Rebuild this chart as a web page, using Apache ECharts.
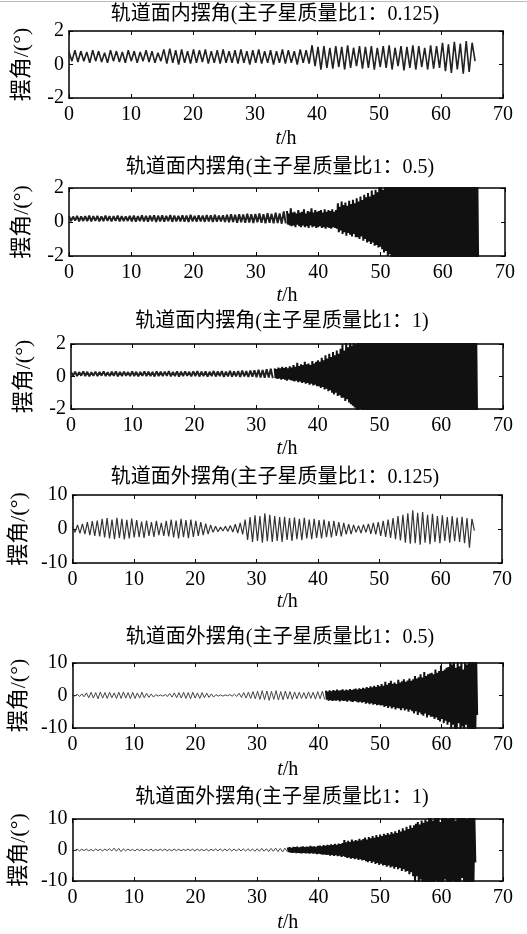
<!DOCTYPE html>
<html>
<head>
<meta charset="utf-8">
<title>摆角</title>
<script src="https://cdn.jsdelivr.net/npm/echarts@6/dist/echarts.min.js"></script>
<style>
html,body{margin:0;padding:0;background:#fff;}
#chart{width:527px;height:934px;}
</style>
</head>
<body>
<div id="chart"></div>
<script>
// 每个数组按 高/低 交替记录一次摆动的峰值和谷值
var titles = [
  '轨道面内摆角(主子星质量比1：0.125)',
  '轨道面内摆角(主子星质量比1：0.5)',
  '轨道面内摆角(主子星质量比1：1)',
  '轨道面外摆角(主子星质量比1：0.125)',
  '轨道面外摆角(主子星质量比1：0.5)',
  '轨道面外摆角(主子星质量比1：1)'
];
var xTicks = [0, 10, 20, 30, 40, 50, 60, 70];
var yRangeIn = [-2, 2, 2];
var yRangeOut = [-10, 10, 10];

// 面内 1:0.125, t 0 ~ 65.5
var p1 = [
  0.75,0.2, 0.85,0.15, 0.8,0.2, 0.75,0.1, 0.85,0.2, 0.8,0.15, 0.7,0.1, 0.85,0.2,
  0.8,0.15, 0.75,0.1, 0.85,0.2, 0.8,0.1, 0.75,0.2, 0.85,0.15, 0.8,0.1, 0.7,0.2,
  0.9,0.05, 0.95,0.1, 0.85,0.0, 0.9,0.1, 0.8,0.05, 0.9,0.1, 0.85,0.15, 0.9,0.05,
  0.8,0.1, 0.85,0.05, 0.9,0.1,
  0.8,0.1, 0.85,0.05, 0.9,0.1, 0.8,0.0, 0.85,0.1, 0.9,0.05, 0.8,0.1, 0.85,0.0,
  0.8,0.1, 0.9,0.05, 0.85,0.1, 0.8,0.0, 0.9,0.1, 0.85,0.05,
  1.15,-0.1, 1.05,-0.3, 1.1,-0.2, 1.0,-0.25, 1.1,-0.15, 1.05,-0.3, 1.15,-0.2, 1.0,-0.1,
  1.1,-0.25, 1.05,-0.2, 1.1,-0.3, 1.0,-0.15,
  1.1,-0.2, 1.15,-0.3, 1.0,-0.1, 1.1,-0.35, 1.05,-0.2, 1.15,-0.3, 1.1,-0.15, 1.0,-0.3,
  1.15,-0.25, 1.1,-0.2,
  1.3,-0.4, 1.2,-0.5, 1.35,-0.3, 1.25,-0.55, 1.4,-0.45, 1.3,0.2
];

// 面内 1:0.5, 前段 t 0 ~ 34.8
var p2a = [
  0.35,0.05, 0.32,0.08, 0.36,0.04, 0.33,0.06, 0.35,0.05, 0.38,0.03, 0.34,0.07, 0.36,0.04,
  0.33,0.05, 0.37,0.06, 0.35,0.03, 0.34,0.07, 0.38,0.04, 0.35,0.05, 0.33,0.06, 0.36,0.04,
  0.38,0.02, 0.35,0.05, 0.4,0.03, 0.36,0.02, 0.38,0.05, 0.4,0.0, 0.37,0.04, 0.39,0.02,
  0.36,0.05, 0.41,0.01, 0.38,0.03, 0.36,0.04, 0.4,0.02, 0.38,0.0, 0.42,0.03, 0.37,0.02,
  0.4,0.04, 0.38,0.01, 0.41,0.03, 0.39,0.0, 0.42,0.02, 0.38,0.03, 0.4,0.0,
  0.42,-0.02, 0.45,0.0, 0.43,-0.04, 0.46,-0.02, 0.44,-0.05, 0.48,-0.03, 0.45,-0.06, 0.47,-0.02,
  0.5,-0.05, 0.46,-0.08, 0.52,-0.04, 0.48,-0.07, 0.55,-0.06, 0.5,-0.1, 0.62,-0.08
];
// 后段 t 35 ~ 65.7
var p2b = [
  0.65,-0.15, 0.5,-0.2, 0.8,-0.25, 0.55,-0.2, 0.6,-0.3, 0.5,-0.15, 0.7,-0.25, 0.55,-0.3, 0.6,-0.2,
  0.75,-0.3, 0.5,-0.25, 0.65,-0.35, 0.6,-0.2, 0.8,-0.3, 0.55,-0.25, 0.7,-0.35, 0.6,-0.3, 0.65,-0.25,
  0.7,-0.35, 0.55,-0.3, 0.75,-0.4, 0.6,-0.3, 0.7,-0.35, 0.65,-0.4, 0.75,-0.3, 0.6,-0.35, 0.7,-0.4,
  1.1,-0.6, 0.9,-0.5, 1.2,-0.7, 1.0,-0.6, 1.15,-0.8, 0.95,-0.65, 1.25,-0.75, 1.05,-0.85, 1.3,-0.7, 1.1,-0.9,
  1.4,-0.9, 1.2,-1.0, 1.5,-0.85, 1.3,-1.1, 1.6,-1.0, 1.45,-1.2, 1.7,-1.15, 1.5,-1.3, 1.85,-1.2,
  1.6,-1.4, 1.9,-1.35, 1.75,-1.5, 2.1,-1.45,
  2.3,-1.6, 1.9,-1.8, 2.5,-1.7, 2.2,-2.0, 2.6,-1.9, 2.4,-2.2, 2.7,-2.3,
  2.8,-2.6, 2.6,-2.4, 3,-2.8, 2.7,-2.5, 2.9,-2.9, 2.6,-2.7, 3,-2.6, 2.8,-3, 2.7,-2.8, 3,-2.7,
  2.9,-2.9, 2.6,-2.8, 3,-3, 2.8,-2.6, 2.7,-2.9, 3,-2.8, 2.9,-2.7, 2.6,-3, 3,-2.9, 2.8,-2.8,
  2.7,-3, 3,-2.7, 2.9,-2.9, 2.8,-2.6, 3,-3, 2.7,-2.8, 2.9,-2.9, 3,-2.7, 2.8,-3, 2.6,-2.8,
  3,-2.9, 2.9,-2.7, 2.7,-3, 3,-2.8, 2.8,-2.9, 2.9,-3, 3,-2.7, 2.7,-2.9, 2.8,-3, 3,-2.8,
  2.9,-2.9, 3,-2.7, 2.8,-3, 2.9,-2.8, 3,-2.9
];

// 面内 1:1, 前段 t 0 ~ 32.7
var p3a = [
  0.28,0.04, 0.3,0.02, 0.27,0.05, 0.31,0.03, 0.29,0.01, 0.26,0.04, 0.3,0.02, 0.28,0.05, 0.32,0.03, 0.27,0.02,
  0.29,0.04, 0.31,0.01, 0.28,0.03, 0.3,0.05, 0.27,0.02, 0.32,0.03, 0.29,0.01, 0.28,0.04, 0.31,0.02, 0.3,0.03,
  0.28,0.0, 0.32,0.03, 0.29,0.02, 0.3,0.04, 0.33,0.01, 0.28,0.03, 0.31,0.0, 0.3,0.02, 0.32,0.04, 0.29,0.01,
  0.31,0.03, 0.33,0.0, 0.3,0.02, 0.32,-0.01, 0.29,0.03, 0.34,0.0, 0.31,0.02, 0.33,-0.02, 0.3,0.01, 0.35,-0.01,
  0.32,0.0, 0.34,-0.02, 0.36,0.0, 0.33,-0.03, 0.37,-0.01, 0.38,-0.04, 0.42,-0.06, 0.4,-0.08, 0.45,-0.07, 0.48,-0.1
];
// 后段 t 33 ~ 65.8
var p3b = [
  0.5,-0.1, 0.45,-0.15, 0.55,-0.12, 0.5,-0.2, 0.6,-0.15, 0.52,-0.2, 0.58,-0.25, 0.5,-0.18, 0.62,-0.22, 0.55,-0.25,
  0.7,-0.3, 0.6,-0.25, 0.85,-0.35, 0.65,-0.3, 0.75,-0.4, 0.7,-0.35, 0.9,-0.45, 0.75,-0.4, 0.8,-0.5, 0.7,-0.45,
  0.95,-0.55, 0.8,-0.5, 0.9,-0.6,
  1.0,-0.6, 0.9,-0.7, 1.15,-0.65, 1.0,-0.8, 1.3,-0.75, 1.1,-0.9, 1.4,-0.85, 1.2,-1.0, 1.5,-1.1, 1.3,-1.0,
  1.6,-1.2, 1.4,-1.15, 1.7,-1.3,
  2.0,-1.3, 1.6,-1.5, 2.2,-1.4, 1.8,-1.6, 2.1,-1.7, 1.9,-1.8, 2.4,-1.9, 2.0,-2.1, 2.5,-2.3, 2.2,-2.0,
  2.8,-2.6, 2.5,-2.9, 3,-2.7, 2.7,-3, 2.9,-2.5, 2.6,-2.8, 3,-2.9, 2.8,-2.6, 2.5,-3, 2.9,-2.7,
  3,-2.8, 2.7,-2.6, 2.8,-3, 2.6,-2.9, 3,-2.7, 2.9,-2.8, 2.7,-3, 3,-2.6, 2.8,-2.9, 2.6,-2.7,
  2.9,-3, 3,-2.8, 2.7,-2.7, 2.8,-2.9, 3,-3, 2.6,-2.8, 2.9,-2.6, 2.8,-3, 3,-2.9, 2.7,-2.7,
  2.9,-2.8, 2.6,-3, 3,-2.7, 2.8,-2.9, 2.7,-2.8, 3,-3, 2.9,-2.6, 2.8,-2.8, 2.6,-2.9, 3,-2.7,
  2.7,-3, 2.9,-2.8, 3,-2.9, 2.8,-2.7, 2.6,-3, 2.9,-2.8, 3,-2.6, 2.7,-2.9, 2.8,-3, 3,-2.8,
  2.9,-2.7, 2.6,-2.9, 3,-3, 2.8,-2.8, 2.7,-2.6, 3,-2.9, 2.9,-3, 2.8,-2.7, 3,-2.8, 2.7,-3,
  2.9,-2.9, 3,-2.7
];

// 面外 1:0.125, t 0 ~ 65.5
var p4 = [
  0.8,-1.0, 1.2,-1.3, 1.5,-1.5,
  2.0,-1.8, 2.3,-2.0, 2.5,-2.2,
  3.0,-2.5, 3.2,-2.8, 2.8,-3.0, 3.3,-2.6, 3.0,-3.1, 2.7,-2.8, 3.1,-2.5,
  2.6,-2.4, 2.2,-2.6, 2.5,-2.0, 2.0,-2.3, 2.4,-1.8, 1.8,-2.0,
  2.4,-2.2, 2.8,-2.5, 2.5,-2.8, 3.0,-2.4, 2.6,-2.7, 2.8,-2.3,
  2.4,-2.0, 2.0,-1.8, 1.6,-1.5, 1.2,-1.0, 0.8,-0.8, 0.6,-0.6, 0.8,-0.7,
  1.0,-0.9, 1.4,-1.2, 1.8,-1.6,
  2.8,-3.2, 3.5,-3.8, 4.0,-3.5, 3.8,-4.0, 4.6,-3.6, 4.2,-3.8,
  3.8,-3.5, 3.5,-3.8, 3.6,-3.2, 3.2,-3.5, 3.4,-3.0, 3.0,-3.3, 3.3,-2.8, 2.8,-3.0, 3.0,-2.6,
  2.6,-2.8, 2.8,-2.4, 2.3,-2.5, 2.4,-2.0, 2.0,-2.2, 1.8,-1.6, 1.4,-1.5, 1.2,-1.0, 1.0,-1.2, 1.3,-1.0,
  1.5,-1.4, 1.8,-1.6,
  2.0,-2.0, 2.4,-2.3, 2.8,-2.6, 3.2,-3.0,
  3.8,-3.4, 4.2,-4.0, 4.6,-4.3, 5.5,-4.2, 4.8,-4.6, 5.0,-4.0,
  4.2,-4.5, 4.5,-3.8, 3.8,-4.2, 4.0,-3.5, 3.5,-4.0, 3.8,-3.6, 3.4,-3.8, 3.6,-4.2, 3.2,-5.5, 3.0,-0.5
];

// 面外 1:0.5, 前段 t 0 ~ 41
var p5a = [
  0.3,-0.2, 0.4,-0.3, 0.5,-0.4,
  0.8,-0.7, 1.0,-0.8, 0.9,-1.0, 1.1,-0.8, 0.9,-0.9, 1.0,-0.7, 0.8,-0.9,
  1.0,-0.9, 1.1,-0.8, 0.9,-1.0, 1.0,-0.9, 0.8,-0.8, 1.0,-0.7, 0.7,-0.6, 0.5,-0.5,
  0.3,-0.2, 0.2,-0.2, 0.3,-0.3,
  0.6,-0.5, 0.8,-0.7, 0.9,-0.8, 1.0,-0.9, 0.9,-1.0, 1.0,-0.8, 0.8,-0.9, 0.9,-0.7, 0.7,-0.6, 0.5,-0.5,
  0.3,-0.2, 0.2,-0.2, 0.2,-0.1, 0.3,-0.2, 0.4,-0.3,
  0.7,-0.6, 0.9,-0.8, 1.0,-0.9, 1.2,-1.0,
  1.3,-1.2, 1.5,-1.3, 1.4,-1.5, 1.3,-1.2, 1.5,-1.4, 1.2,-1.3, 1.4,-1.1, 1.2,-1.2, 1.1,-1.0,
  1.0,-0.9, 0.9,-1.0, 1.1,-0.9, 1.0,-1.1, 1.2,-1.0, 1.3,-1.2
];
// 后段 t 41 ~ 65.8
var p5b = [
  1.5,-1.3, 1.2,-1.6, 1.6,-1.4, 1.3,-1.7, 1.7,-1.5, 1.4,-1.6, 1.8,-1.4, 1.5,-1.8, 1.6,-1.5, 1.9,-1.7,
  1.5,-1.6, 1.8,-1.9, 1.6,-1.5, 2.0,-1.8, 1.7,-2.0, 1.9,-1.7, 2.1,-1.9, 1.8,-2.1, 2.2,-1.9, 2.0,-2.2,
  2.4,-2.0, 2.1,-2.5, 2.6,-2.2, 2.3,-2.7, 2.8,-2.4, 2.5,-2.8, 3.0,-2.6, 2.6,-3.0, 3.2,-2.8, 2.8,-3.1,
  3.5,-3.0, 3.0,-3.5, 4.2,-3.2, 3.3,-3.8, 3.8,-3.4, 4.5,-4.0, 3.6,-3.6, 4.0,-4.3, 3.5,-3.8, 4.8,-4.0,
  4.0,-4.5, 4.4,-3.9, 5.0,-4.6, 4.2,-4.2, 4.6,-5.0, 5.2,-4.4, 4.5,-4.8,
  5.0,-5.5, 6.0,-4.8, 5.2,-6.0, 5.6,-5.2, 6.5,-5.8, 5.5,-6.2, 7.2,-5.5, 6.0,-6.8, 6.5,-6.0, 6.8,-6.5,
  7.0,-6.5, 6.5,-7.2, 8.0,-6.8, 7.0,-7.5, 7.5,-8.0, 9.2,-7.2, 7.5,-8.5, 8.0,-7.8, 8.5,-9.0, 8.8,-8.2,
  11,-10.5, 9.5,-9.0, 11,-11, 8.5,-10.5, 10.5,-8.5, 9.0,-11, 11,-9.5, 8.0,-10.5, 10.5,-9.0, 9.5,-11,
  11,-11, 10.5,-11, 11,-10.5, 11,-11, 10.5,-6.0
];

// 面外 1:1, 前段 t 0 ~ 34.9
var p6a = [
  0.2,-0.2, 0.3,-0.3, 0.25,-0.2, 0.3,-0.25, 0.2,-0.3, 0.3,-0.2, 0.25,-0.3, 0.3,-0.2, 0.4,-0.3,
  0.6,-0.4, 0.5,-0.5, 0.4,-0.3,
  0.3,-0.2, 0.2,-0.3, 0.3,-0.2, 0.25,-0.25, 0.2,-0.2, 0.3,-0.3, 0.2,-0.2, 0.25,-0.2, 0.3,-0.25, 0.2,-0.3,
  0.3,-0.2, 0.25,-0.25, 0.2,-0.2, 0.3,-0.2, 0.25,-0.3, 0.3,-0.2, 0.2,-0.25, 0.3,-0.3, 0.25,-0.2, 0.3,-0.25,
  0.35,-0.3, 0.3,-0.25, 0.35,-0.3, 0.3,-0.35, 0.4,-0.3, 0.35,-0.35, 0.4,-0.3, 0.35,-0.4,
  0.4,-0.4, 0.5,-0.4, 0.4,-0.5, 0.5,-0.4, 0.6,-0.5, 0.5,-0.6, 0.6,-0.5
];
// 后段 t 35 ~ 65.5
var p6b = [
  0.8,-0.7, 0.9,-0.8, 0.7,-0.9, 1.0,-0.8, 0.9,-1.0, 1.1,-0.9, 0.8,-1.0, 1.0,-1.1, 1.2,-0.9, 0.9,-1.1,
  1.1,-1.0, 1.0,-1.2, 1.3,-1.0, 1.1,-1.2, 1.2,-1.1, 1.0,-1.3, 1.3,-1.2,
  1.4,-1.3, 1.2,-1.5, 1.6,-1.4, 1.3,-1.6, 1.7,-1.5, 1.5,-1.8, 1.8,-1.6, 1.6,-1.9, 2.0,-1.7, 1.7,-2.0,
  2.1,-1.8, 1.9,-2.2, 2.2,-2.0,
  3.2,-2.2, 2.5,-2.6, 3.0,-2.4, 2.6,-2.8, 3.4,-2.6, 2.8,-3.0, 3.2,-2.7, 3.0,-3.2, 3.6,-3.0, 3.1,-3.4,
  3.5,-3.2, 4.0,-3.6, 3.4,-3.9, 4.2,-3.5, 3.8,-4.2, 4.5,-3.8, 3.9,-4.5, 4.8,-4.2, 4.2,-4.8, 5.0,-4.4,
  4.5,-5.0, 5.2,-4.8, 4.8,-5.4, 5.5,-5.0, 5.0,-5.6, 5.8,-5.3, 5.3,-6.0,
  6.0,-5.5, 5.5,-6.2, 6.5,-5.8, 6.0,-6.8, 7.0,-6.2, 6.3,-7.0, 7.5,-6.8, 6.8,-7.8, 8.0,-7.2, 7.2,-8.5,
  8.0,-10.5, 8.5,-8.5, 9.0,-11, 8.2,-9.5, 9.5,-11, 8.8,-10.5, 9.8,-11, 9.2,-10.8,
  11,-10.5, 10.5,-11, 9.5,-11, 11,-10, 10.5,-11, 11,-10.5, 9.0,-11, 11,-11, 10.5,-9.5, 11,-11,
  10,-10.5, 11,-11, 10.5,-10, 11,-11, 9.5,-10.5, 11,-11, 10.5,-11, 11,-9.0, 10.5,-11, 11,-10.5,
  10,-11, 11,-10.5, 10.5,-11, 11,-11, 10.5,-4.0
];

// 把一段峰谷值均匀排到 [t0, t1] 上
function seg(vals, t0, t1) {
  var dt = (t1 - t0) / (vals.length - 1);
  return vals.map(function (v, i) { return [t0 + i * dt, v]; });
}

var serif = '"Liberation Serif","Times New Roman","Noto Sans CJK SC",serif';

var panels = [
  { box: [69, 31, 434, 67], title: [275, 15], y: yRangeIn, gap: 31,
    segs: [{ d: seg(p1, 0, 65.5), w: 1.6, c: '#222' }] },
  { box: [69, 188, 436, 68], title: [280, 168], y: yRangeIn, gap: 30,
    segs: [{ d: seg(p2a, 0, 34.8), w: 2, c: '#222' }, { d: seg(p2b, 35, 65.7), w: 2, c: '#111' }] },
  { box: [71, 344, 432, 65], title: [282, 322], y: yRangeIn, gap: 30,
    segs: [{ d: seg(p3a, 0, 32.7), w: 2, c: '#222' }, { d: seg(p3b, 33, 65.8), w: 2, c: '#111' }] },
  { box: [71, 495, 431, 68], title: [275, 478], y: yRangeOut, gap: 29,
    segs: [{ d: seg(p4, 0, 65.5), w: 1.2, c: '#333' }] },
  { box: [69, 663, 434, 65], title: [280, 638], y: yRangeOut, gap: 32,
    segs: [{ d: seg(p5a, 0, 41), w: 1, c: '#444' }, { d: seg(p5b, 41.2, 65.8), w: 2, c: '#111' }] },
  { box: [69, 819, 434, 65], title: [282, 798], y: yRangeOut, gap: 32,
    segs: [{ d: seg(p6a, 0, 34.9), w: 1, c: '#444' }, { d: seg(p6b, 35, 65.5), w: 2, c: '#111' }] }
];

var grid = [], xAxis = [], yAxis = [], series = [], graphic = [];
var lineSt = { color: '#000', width: 1.5 };
var tickSt = { color: '#000', width: 1 };

graphic.push({ type: 'line', shape: { x1: 0, y1: 1.5, x2: 527, y2: 1.5 }, style: { stroke: '#bbb', lineWidth: 1 } });

panels.forEach(function (p, i) {
  grid.push({ left: p.box[0], top: p.box[1], width: p.box[2], height: p.box[3], containLabel: false });
  xAxis.push({
    gridIndex: i, type: 'value', min: xTicks[0], max: xTicks[xTicks.length - 1], interval: 10,
    axisLine: { show: true, onZero: false, lineStyle: lineSt },
    axisTick: { show: true, inside: true, length: 4, lineStyle: tickSt },
    axisLabel: { fontFamily: serif, fontSize: 20, color: '#000', margin: 7 },
    splitLine: { show: false },
    name: '{i|t}/h', nameLocation: 'middle', nameGap: p.gap,
    nameTextStyle: { fontFamily: serif, fontSize: 20, color: '#000',
      rich: { i: { fontFamily: serif, fontSize: 20, fontStyle: 'italic', color: '#000' } } }
  });
  xAxis.push({
    gridIndex: i, type: 'value', position: 'top', min: 0, max: 70, interval: 10,
    axisLine: { show: true, onZero: false, lineStyle: lineSt },
    axisTick: { show: true, inside: true, length: 4, lineStyle: tickSt },
    axisLabel: { show: false }, splitLine: { show: false }
  });
  yAxis.push({
    gridIndex: i, type: 'value', min: p.y[0], max: p.y[1], interval: p.y[2],
    axisLine: { show: true, onZero: false, lineStyle: lineSt },
    axisTick: { show: true, inside: true, length: 4, lineStyle: tickSt },
    axisLabel: { fontFamily: serif, fontSize: 20, color: '#000', margin: 5 },
    splitLine: { show: false },
    name: '摆角/(°)', nameLocation: 'middle', nameGap: 36,
    nameTextStyle: { fontFamily: serif, fontSize: 22, color: '#000' }
  });
  yAxis.push({
    gridIndex: i, type: 'value', position: 'right', min: p.y[0], max: p.y[1], interval: p.y[2],
    axisLine: { show: true, onZero: false, lineStyle: lineSt },
    axisTick: { show: true, inside: true, length: 4, lineStyle: tickSt },
    axisLabel: { show: false }, splitLine: { show: false }
  });
  p.segs.forEach(function (s) {
    series.push({
      type: 'line', xAxisIndex: i * 2, yAxisIndex: i * 2, data: s.d,
      symbol: 'none', clip: true, silent: true,
      lineStyle: { color: s.c, width: s.w }
    });
  });
  graphic.push({
    type: 'text', x: p.title[0], y: p.title[1],
    style: { text: titles[i], font: '20px ' + serif, fill: '#000',
      textAlign: 'center', textVerticalAlign: 'middle', align: 'center', verticalAlign: 'middle' }
  });
});

var myChart = echarts.init(document.getElementById('chart'), null, { renderer: 'canvas' });
myChart.setOption({
  animation: false,
  backgroundColor: '#fff',
  grid: grid,
  xAxis: xAxis,
  yAxis: yAxis,
  series: series,
  graphic: graphic
});
</script>
</body>
</html>
